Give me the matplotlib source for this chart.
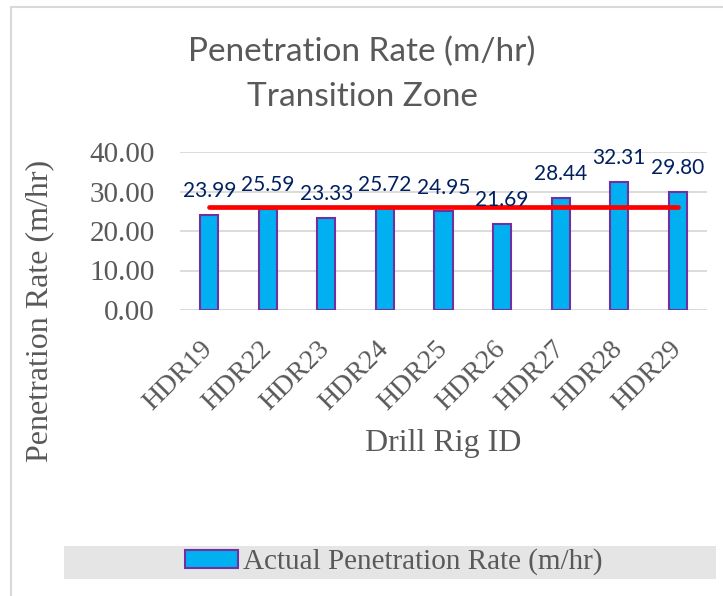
import matplotlib
matplotlib.use("Agg")
import matplotlib.pyplot as plt
import matplotlib.transforms as mtransforms
from matplotlib.patches import Rectangle

rigs = ["HDR19", "HDR22", "HDR23", "HDR24", "HDR25", "HDR26", "HDR27", "HDR28", "HDR29"]
rates = [23.99, 25.59, 23.33, 25.72, 24.95, 21.69, 28.44, 32.31, 29.80]
avg_rate = 26.2
yticks = [0, 10, 20, 30, 40]

W, H = 723, 596
fig = plt.figure(figsize=(W / 100, H / 100), dpi=100)
ax = fig.add_axes([180 / W, 1 - 310 / H, 527 / W, 158 / H])

serif = "Liberation Serif"
gray = "#595959"

# chart border
fig.patches.append(Rectangle((11 / W, -0.05), 1.0, 1 - 7 / H + 0.05, transform=fig.transFigure,
                             fill=False, edgecolor="#D9D9D9", lw=1.5))

x = range(len(rigs))
bars = ax.bar(x, rates, width=0.31, color="#00B0F0", edgecolor="#7030A0", lw=1.5,
              label="Actual Penetration Rate (m/hr)", zorder=3)
ax.plot([0, len(rigs) - 1], [avg_rate, avg_rate], color="#FF0000", lw=3.4,
        solid_capstyle="round", zorder=4)

for i, v in enumerate(rates):
    ax.annotate(f"{v:.2f}", (i, v), xytext=(0, 10), textcoords="offset points",
                ha="center", va="bottom", fontsize=15, color="#002060",
                family="Lato", zorder=5)

ax.set_ylim(0, 40)
ax.set_xlim(-0.5, len(rigs) - 0.5)
ax.set_yticks(yticks)
ax.set_yticklabels([f"{t:.2f}" for t in yticks], family=serif, fontsize=21, color=gray)
ax.set_xticks(list(x))
ax.set_xticklabels(rigs, rotation=45, ha="right", rotation_mode="anchor",
                   family=serif, fontsize=20, color=gray)
ax.tick_params(axis="y", length=0, pad=18)
ax.tick_params(axis="x", length=0, pad=12)
# nudge rotated labels so their top-right sits under the bar
shift = mtransforms.ScaledTranslation(-0.09, -0.10, fig.dpi_scale_trans)
for lbl in ax.get_xticklabels():
    lbl.set_transform(lbl.get_transform() + shift)
ax.grid(axis="y", color="#D9D9D9", lw=1.3, zorder=0)
for s in ["top", "right", "left", "bottom"]:
    ax.spines[s].set_visible(False)
ax.axhline(0, color="#D9D9D9", lw=1.3, zorder=2)

fig.text(40 / W, 1 - 311 / H, "Penetration Rate (m/hr)", rotation=90, ha="center", va="center",
         family=serif, fontsize=23, color=gray)
fig.text(443 / W, 1 - 443 / H, "Drill Rig ID", ha="center", va="center",
         family=serif, fontsize=23, color=gray)

fig.text(362 / W, 1 - 52 / H, "Penetration Rate (m/hr)", ha="center", va="center",
         family="Lato", fontsize=24, color=gray)
fig.text(362 / W, 1 - 97 / H, "Transition Zone", ha="center", va="center",
         family="Lato", fontsize=24, color=gray)

# legend band
fig.patches.append(Rectangle((64 / W, 1 - 579 / H), 652 / W, 33 / H, transform=fig.transFigure,
                             facecolor="#E5E5E5", edgecolor="none", zorder=0))
fig.legend(handles=[bars], loc="center", bbox_to_anchor=(394 / W, 1 - 562 / H), frameon=False,
           prop={"family": serif, "size": 21}, labelcolor=gray, handlelength=1.8,
           handleheight=0.55, handletextpad=0.2, borderpad=0)

fig.savefig("out.png", dpi=100)
